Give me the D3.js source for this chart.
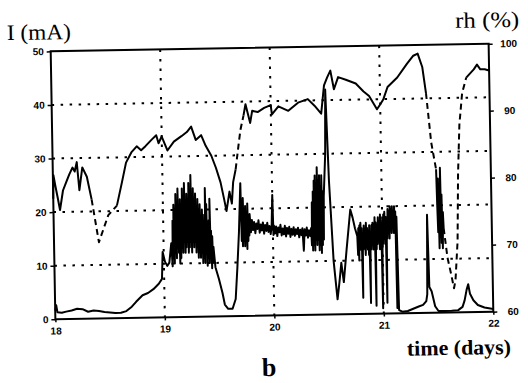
<!DOCTYPE html>
<html>
<head>
<meta charset="utf-8">
<script src="https://cdn.jsdelivr.net/npm/d3@7"></script>
<style>
  body { margin: 0; background: #fff; }
  svg { display: block; }
</style>
</head>
<body>
<div id="chart"></div>
<script>
// current I (mA) over time (days): [day, mA]
const currentPoints = [
  [18.00,1.6],[18.01,2.6],[18.02,1.3],[18.06,1.2],[18.10,1.4],[18.15,1.6],[18.20,1.9],[18.25,1.8],
  [18.30,1.3],[18.35,1.5],[18.40,1.4],[18.45,1.2],[18.50,1.1],[18.55,1.0],[18.60,1.0],[18.65,1.3],
  [18.70,2.1],[18.74,3.0],[18.80,4.2],[18.85,4.6],[18.90,5.3],[18.95,6.3],[18.98,7.2],[18.99,12.2],
  [19.01,10.4],[19.03,9.6],[19.05,10.2],[19.07,13.8],
  [19.080,9.5],[19.085,18],[19.090,11],[19.095,21],[19.100,10],[19.105,19],[19.110,12],[19.115,23],
  [19.120,11],[19.125,20],[19.130,13],[19.135,24],[19.140,12],[19.145,21],[19.150,10],[19.155,22],
  [19.160,11],[19.165,19],[19.170,13],[19.175,24],[19.180,12],[19.185,22],[19.190,14],[19.195,25],
  [19.200,12],[19.205,21],[19.210,13],[19.215,23],[19.220,14],[19.225,20],[19.230,12],[19.235,25],
  [19.240,13],[19.245,22],[19.250,14],[19.255,26.5],[19.260,12],[19.265,21],[19.270,14],[19.275,24],
  [19.280,13],[19.285,20],[19.290,14],[19.295,23],[19.300,12],[19.305,19],[19.310,13],[19.315,22],
  [19.320,11],[19.325,18],[19.330,12],[19.335,21],[19.340,11],[19.345,17],[19.350,12],[19.355,20],
  [19.360,10],[19.365,16],[19.370,11],[19.375,19],[19.380,10],[19.385,24],[19.390,12],[19.395,21],
  [19.400,9.5],[19.405,17],[19.410,11],[19.415,18],[19.420,10],[19.425,22],[19.430,11],[19.435,16],
  [19.440,9],[19.445,15],[19.450,10],[19.455,13],[19.47,9.2],
  [19.50,7.0],[19.53,4.4],[19.55,2.2],[19.58,1.4],[19.62,1.4],[19.65,3.2],[19.67,9.0],[19.69,15.6],
  [19.71,24.8],[19.715,14],[19.72,21],[19.725,13],[19.73,22],[19.735,14],[19.74,19],[19.745,13],
  [19.75,20.5],[19.755,14],[19.76,18],[19.765,12.5],[19.77,21],[19.775,14],[19.78,18],[19.785,15],[19.79,19],
  [19.80,15.6],[19.81,17.9],[19.82,16.0],[19.83,17.5],[19.84,15.4],[19.85,17.2],[19.86,16.2],[19.87,17.8],
  [19.88,15.5],[19.89,17.0],[19.90,15.9],[19.91,17.4],[19.92,15.3],[19.93,16.9],[19.94,15.8],[19.95,17.3],
  [19.96,15.6],[19.97,16.7],[19.98,15.2],[19.99,16.9],[20.00,22.5],[20.005,15.0],[20.01,16.8],[20.02,15.3],
  [20.03,16.6],[20.04,14.8],[20.05,16.4],[20.06,15.5],[20.07,16.9],[20.08,14.9],[20.09,16.2],[20.10,15.1],
  [20.11,16.7],[20.12,14.7],[20.13,16.3],[20.14,15.2],[20.15,16.5],[20.16,14.6],[20.17,16.1],[20.18,15.0],
  [20.19,16.4],[20.20,14.8],[20.21,16.0],[20.22,15.1],[20.23,16.3],[20.24,14.5],[20.25,15.9],[20.26,14.9],
  [20.27,16.2],[20.28,12.0],[20.29,16.0],[20.30,14.8],[20.31,16.3],[20.32,14.4],[20.33,15.8],[20.34,14.7],
  [20.35,16.2],
  [20.355,13],[20.36,21],[20.365,12],[20.37,23],[20.375,13],[20.38,25],[20.385,12],[20.39,26],
  [20.395,14],[20.40,24],[20.405,13],[20.41,27.5],[20.415,14],[20.42,25],[20.425,12],[20.43,26],
  [20.435,13],[20.44,24],[20.445,11.5],[20.45,26],[20.455,13],[20.46,23],[20.465,14],[20.47,22],
  [20.49,30],[20.50,42],[20.52,25],[20.55,10],[20.58,2.8],[20.60,6],[20.62,9.6],[20.64,6],
  [20.67,12],[20.71,19.5],[20.73,18],[20.75,16],
  [20.770,14.5],[20.775,11],[20.780,16],[20.785,10],[20.790,16.5],[20.795,12],[20.800,17],[20.805,13],
  [20.810,16],[20.815,3],[20.820,15],[20.825,12],[20.830,16.5],[20.835,13],[20.840,15.5],[20.845,11],
  [20.850,17],[20.855,13],[20.860,16],[20.865,12],[20.870,15.5],[20.875,11],[20.880,16.5],[20.885,2],
  [20.890,15],[20.895,12],[20.900,16.5],[20.905,13],[20.910,17],[20.915,12],[20.920,16],[20.925,14],
  [20.930,18],[20.935,1.5],[20.940,17],[20.945,12],[20.950,16.5],[20.955,13],[20.960,18],[20.965,14],
  [20.970,17],[20.975,12],[20.980,18.5],[20.985,13],[20.990,17],[20.995,1],[21.000,17.5],[21.005,13],
  [21.010,18.5],[21.015,14],[21.020,19],[21.025,13],[21.030,18],[21.035,2],[21.040,18],[21.045,14],
  [21.050,19.5],[21.055,15],[21.060,19],[21.065,14],[21.070,20],[21.075,16],[21.080,19.5],[21.085,15],
  [21.090,20],[21.095,16],[21.100,19],[21.105,15],[21.110,20],[21.115,16],[21.120,19],[21.125,1],
  [21.130,18],[21.14,0.6],
  [21.17,0.3],[21.22,0.4],[21.27,0.8],[21.32,1.2],[21.36,1.5],[21.39,2.2],[21.40,3.5],[21.41,18.3],
  [21.42,4.8],[21.44,4.0],[21.47,1.2],[21.50,0.3],[21.56,0.3],[21.62,0.3],[21.68,0.4],[21.72,1.0],
  [21.74,2.2],[21.76,4.2],[21.775,5.2],[21.79,3.4],[21.82,2.2],[21.86,1.3],[21.92,0.8],[22.00,0.5]
];

// relative humidity rh (%) over time (days): [day, %]
const rhPoints = [
  [18.00,78],[18.005,81.5],[18.02,80],[18.04,78.2],[18.06,76.3],[18.09,79.2],[18.12,80.4],[18.15,81.6],
  [18.18,82.6],[18.20,82],[18.22,83.4],[18.24,79.2],[18.27,82.6],[18.31,81.2],[18.35,77.8],[18.41,71.4],
  [18.50,75.4],[18.58,76.8],[18.63,80.3],[18.67,83.2],[18.72,84.7],[18.77,85.6],[18.81,85],[18.85,85.6],
  [18.91,86.6],[18.95,87.2],[18.97,86],[19.00,87],[19.05,84.9],[19.11,86.2],[19.18,87],[19.23,87.6],
  [19.27,88.4],[19.31,86.4],[19.36,87.1],[19.40,85.5],[19.45,84],[19.49,82.2],[19.53,80],[19.56,77.5],
  [19.58,75.7],[19.61,78.6],[19.63,76.8],[19.645,80],[19.67,81.9],[19.70,85.5],[19.72,87.8],[19.75,89.9],
  [19.77,91.6],[19.81,88.8],[19.83,90.6],[19.88,90.4],[19.94,91],[20.00,91.4],[20.01,90],[20.07,91.2],
  [20.16,90.5],[20.25,91.7],[20.34,92.2],[20.40,91.2],[20.46,90],[20.49,94.2],[20.52,95.4],[20.55,96.4],
  [20.58,93.6],[20.62,95.4],[20.69,95],[20.78,94.4],[20.85,93.2],[20.90,92.5],[20.97,90.5],[21.00,91.2],
  [21.03,92],[21.07,93.8],[21.16,95.2],[21.25,97.2],[21.31,98.4],[21.35,98.7],[21.39,96.7],[21.42,92.8],
  [21.46,85.4],[21.50,81.4],[21.505,76],[21.51,72],[21.515,80],[21.52,69.6],[21.525,79.2],[21.53,71.2],
  [21.535,81.6],[21.54,70.4],[21.545,77.6],[21.55,69.6],[21.555,75],[21.56,72.6],[21.59,68.2],[21.62,65.8],
  [21.645,63.6],[21.66,64.8],[21.685,70.6],[21.70,80.6],[21.72,88],[21.75,92.7],[21.79,95],[21.86,96.2],
  [21.89,96.9],[21.92,96.2],[21.96,96.2],[22.00,96]
];

// stretches of the rh trace drawn dashed (gaps in the record)
const rhDashedSpans = [[18.35,18.58],[19.67,19.75],[21.42,21.50],[21.56,21.79]];

const dayTicks = [18, 19, 20, 21, 22];
const currentTicks = [0, 10, 20, 30, 40, 50];
const rhTicks = [60, 70, 80, 90, 100];
const gridDays = [19, 20, 21];
const gridCurrent = [10, 20, 30, 40];

const W = 528, H = 383;
const margin = { top: 47.5, right: 37, bottom: 67.5, left: 53 };
const plotL = margin.left, plotR = W - margin.right, plotT = margin.top, plotB = H - margin.bottom;

const svg = d3.select('#chart').append('svg')
  .attr('width', W)
  .attr('height', H);

svg.append('rect').attr('width', W).attr('height', H).attr('fill', '#fff');

// the scanned figure sits slightly tilted
const g = svg.append('g')
  .attr('transform', `rotate(-1, ${(plotL + plotR) / 2}, ${(plotT + plotB) / 2})`);

// --- Scales ---
const x = d3.scaleLinear().domain([18, 22]).range([plotL, plotR]);
const yL = d3.scaleLinear().domain([0, 50]).range([plotB, plotT]);
const yR = d3.scaleLinear().domain([60, 100]).range([plotB, plotT]);

// --- Grid (dotted) ---
g.append('g').selectAll('line')
  .data(gridCurrent).join('line')
    .attr('x1', plotL).attr('x2', plotR)
    .attr('y1', d => yL(d)).attr('y2', d => yL(d))
    .attr('stroke', '#000').attr('stroke-width', 2)
    .attr('stroke-dasharray', '2.5,6.5');

g.append('g').selectAll('line')
  .data(gridDays).join('line')
    .attr('x1', d => x(d)).attr('x2', d => x(d))
    .attr('y1', plotT).attr('y2', plotB)
    .attr('stroke', '#000').attr('stroke-width', 2)
    .attr('stroke-dasharray', '2.5,7');

// --- Axes ---
const tickFont = a => a.selectAll('text')
  .attr('font-family', '"Liberation Sans", Arial, sans-serif')
  .attr('font-weight', 'bold')
  .attr('font-size', 10)
  .attr('fill', '#000');

g.append('g')
  .attr('transform', `translate(${plotL},0)`)
  .call(d3.axisLeft(yL).tickValues(currentTicks).tickFormat(d3.format('d')).tickSize(4).tickPadding(3))
  .call(a => a.select('.domain').remove())
  .call(a => a.selectAll('line').attr('stroke-width', 1.5))
  .call(tickFont);

g.append('g')
  .attr('transform', `translate(0,${plotB})`)
  .call(d3.axisBottom(x).tickValues(dayTicks).tickFormat(d3.format('d')).tickSize(3).tickPadding(5))
  .call(a => a.select('.domain').remove())
  .call(a => a.selectAll('line').attr('stroke-width', 1.5))
  .call(tickFont);

g.append('g')
  .attr('transform', `translate(${plotR},0)`)
  .call(d3.axisRight(yR).tickValues(rhTicks).tickFormat(d3.format('d')).tickSize(4).tickPadding(0))
  .call(a => a.select('.domain').remove())
  .call(a => a.selectAll('line').attr('stroke-width', 1.5))
  .call(a => a.selectAll('text').attr('x', 20).attr('text-anchor', 'middle'))
  .call(tickFont);

// --- Frame ---
g.append('rect')
  .attr('x', plotL).attr('y', plotT)
  .attr('width', plotR - plotL).attr('height', plotB - plotT)
  .attr('fill', 'none').attr('stroke', '#000').attr('stroke-width', 2);

// --- Current trace ---
g.append('path')
  .datum(currentPoints)
  .attr('fill', 'none')
  .attr('stroke', '#000')
  .attr('stroke-width', 2)
  .attr('stroke-linejoin', 'round')
  .attr('d', d3.line().x(d => x(d[0])).y(d => yL(d[1])));

// --- rh trace, split into solid and dashed runs ---
const isDashed = (a, b) => {
  const mid = (a[0] + b[0]) / 2;
  return rhDashedSpans.some(s => mid > s[0] && mid < s[1]);
};
const runs = [];
for (let i = 1; i < rhPoints.length; i++) {
  const dashed = isDashed(rhPoints[i - 1], rhPoints[i]);
  const last = runs[runs.length - 1];
  if (last && last.dashed === dashed) last.points.push(rhPoints[i]);
  else runs.push({ dashed, points: [rhPoints[i - 1], rhPoints[i]] });
}

const rhLine = d3.line().x(d => x(d[0])).y(d => yR(d[1]));
g.append('g').selectAll('path')
  .data(runs).join('path')
    .attr('fill', 'none')
    .attr('stroke', '#000')
    .attr('stroke-width', 2)
    .attr('stroke-linejoin', 'round')
    .attr('stroke-dasharray', d => d.dashed ? '6,4' : null)
    .attr('d', d => rhLine(d.points));

// --- Titles ---
const serif = '"Liberation Serif", "Times New Roman", serif';
g.append('text')
  .attr('x', 9.5).attr('y', 35.5)
  .attr('font-family', serif).attr('font-size', 22)
  .attr('textLength', 64).attr('lengthAdjust', 'spacingAndGlyphs')
  .text('I (mA)');

g.append('text')
  .attr('x', 458).attr('y', 31)
  .attr('font-family', serif).attr('font-size', 22)
  .attr('textLength', 64).attr('lengthAdjust', 'spacingAndGlyphs')
  .text('rh (%)');

g.append('text')
  .attr('x', 404).attr('y', 358)
  .attr('font-family', serif).attr('font-size', 21).attr('font-weight', 'bold')
  .attr('textLength', 104).attr('lengthAdjust', 'spacingAndGlyphs')
  .text('time (days)');

g.append('text')
  .attr('x', 258.5).attr('y', 376)
  .attr('font-family', serif).attr('font-size', 26).attr('font-weight', 'bold')
  .text('b');
</script>
</body>
</html>
